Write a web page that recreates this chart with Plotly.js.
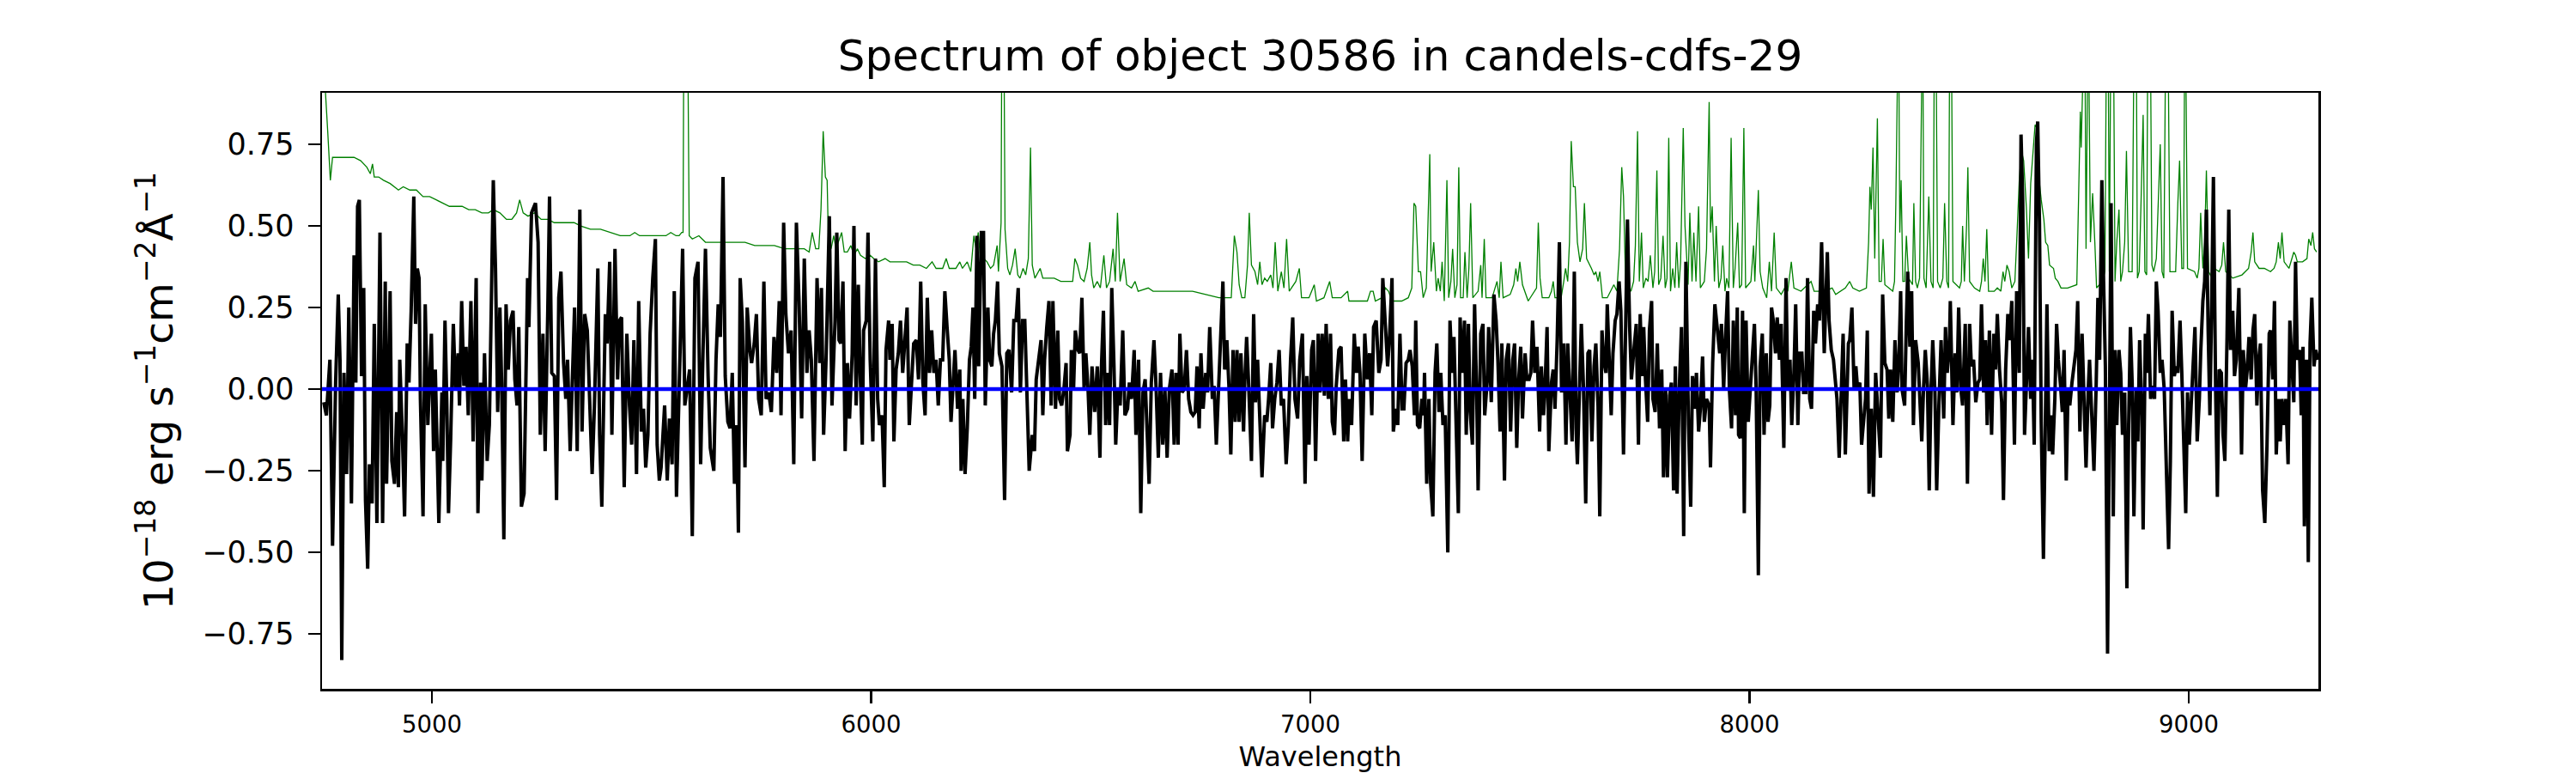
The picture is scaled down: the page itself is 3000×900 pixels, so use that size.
<!DOCTYPE html>
<html>
<head>
<meta charset="utf-8">
<script src="https://cdn.plot.ly/plotly-3.0.1.min.js"></script>
<style>html,body{margin:0;padding:0;background:#fff;}#chart{width:3000px;height:900px;}</style>
</head>
<body>
<div id="chart"></div>
<script>
const specWaveA = [4754,4760,4768,4774,4781,4787,4791,4795,4800,4806,4811,4817,4823,4827,4831,4835,4840,4845,4849,4854,4858,4864,4869,4875,4882,4888,4894,4897,4905,4909,4915,4920,4924,4927,4933,4938,4944,4948,4953,4959,4963,4967,4971,4974,4980,4985,4991,4999,5004,5008,5016,5023,5025,5030,5034,5038,5043,5049,5054,5060,5063,5068,5073,5078,5083,5089,5094,5101,5105,5111,5114,5120,5126,5131,5140,5145,5150,5155,5159,5164,5169,5174,5179,5185,5189,5194,5198,5204,5210,5213,5218,5221,5227,5230,5236,5242,5247,5253,5258,5264,5268,5273,5279,5284,5289,5294,5300,5305,5309,5315,5320,5325,5331,5337,5342,5348,5354,5360,5365,5370,5378,5382,5387,5395,5399,5405,5410,5417,5423,5427,5432,5438,5444,5450,5455,5460,5466,5471,5477,5482,5487,5492,5497,5503,5509,5513,5518,5522,5530,5536,5541,5547,5552,5557,5563,5571,5576,5582,5587,5593,5599,5606,5612,5617,5623,5629,5634,5642,5647,5652,5657,5663,5668,5674,5679,5684,5689,5694,5698,5702,5707,5713,5718,5724,5728,5734,5739,5744,5750,5756,5761,5767,5773,5779,5785,5791,5795,5801,5806,5812,5818,5824,5830,5836,5842,5848,5854,5859,5864,5870,5877,5883,5887,5892,5898,5905,5911];
const specFluxA = [-0.04,-0.08,0.09,-0.48,0.02,0.29,0.09,-0.83,0.05,-0.26,0.25,-0.35,0.41,0.02,0.56,0.58,0.04,0.31,-0.34,-0.55,-0.23,-0.35,0.20,-0.41,0.48,-0.41,0.33,-0.29,0.30,-0.22,-0.29,-0.07,-0.30,0.09,-0.14,-0.39,0.14,0.02,0.24,0.59,0.20,0.37,0.34,-0.03,-0.39,0.26,-0.11,0.17,-0.19,0.06,-0.41,-0.01,-0.22,0.21,-0.03,-0.38,-0.15,0.20,0.00,0.11,-0.05,0.27,0.01,0.13,-0.08,0.27,-0.16,0.34,-0.38,0.02,-0.28,0.11,-0.22,-0.11,0.64,0.37,-0.07,0.25,0.02,-0.46,0.26,0.06,0.21,0.24,0.03,-0.05,0.19,-0.36,-0.32,-0.10,0.34,0.19,0.54,0.55,0.57,0.45,-0.14,0.17,-0.19,0.24,0.59,0.05,0.04,-0.34,0.28,0.36,0.08,-0.03,0.09,-0.19,0.01,0.25,-0.19,0.55,-0.13,0.23,0.18,-0.08,-0.26,-0.06,0.37,-0.14,-0.36,0.23,0.14,0.39,-0.14,0.43,0.03,0.21,0.22,-0.30,0.17,-0.05,-0.17,0.15,-0.26,0.27,-0.13,-0.06,-0.24,-0.14,0.17,0.34,0.46,-0.17,-0.28,-0.24,-0.05,-0.28,-0.09,-0.23,0.30,-0.33,0.00,0.43,-0.05,0.01,0.06,-0.45,0.34,0.39,-0.23,0.09,0.43,0.04,-0.18,-0.25,0.09,0.26,0.16,0.65,0.04,-0.10,-0.12,0.05,-0.29,-0.11,-0.44,0.34,0.21,-0.24,0.25,0.12,0.08,0.14,0.23,-0.03,-0.08,0.33,-0.03,-0.01,-0.07,0.16,0.05,0.27,-0.08,0.51,0.23,0.11,0.18,-0.23,0.51,0.27,-0.09,0.40,0.05,0.18,0.09,-0.22,0.34,0.08,0.31,-0.14,0.11,0.53,-0.05];

const specWaveB = [5918,5922,5927,5931,5936,5941,5946,5951,5957,5961,5966,5971,5975,5980,5983,5989,5993,5998,6004,6010,6015,6019,6025,6030,6034,6040,6043,6048,6052,6057,6062,6067,6072,6077,6082,6087,6092,6097,6103,6108,6113,6118,6123,6128,6133,6138,6143,6148,6153,6158,6163,6168,6173,6178,6182,6187,6191,6197,6202,6205,6209,6214,6219,6224,6228,6232,6236,6241,6245,6251,6256,6260,6266,6270,6275,6279,6283,6288,6292,6298,6304,6309,6314,6320,6325,6330,6335,6340,6345,6350,6355,6360,6367,6372,6376,6382,6387,6391,6395,6400,6405,6410,6414,6420,6425,6429,6434,6439,6444,6447,6453,6456,6461,6465,6471,6475,6480,6485,6489,6494,6498,6503,6509,6515,6521,6524,6529,6534,6539,6543,6548,6553,6557,6562,6567,6573,6578,6584,6588,6593,6599,6603,6609,6614,6619,6624,6629,6633,6638,6644,6649,6654,6659,6664,6669,6674,6679,6685,6690,6694,6699,6703,6708,6713,6718,6723,6728,6733,6738,6742,6747,6751,6756,6762,6766,6771,6777,6781,6786,6792,6796,6801,6805,6810,6815,6819,6824,6829,6833,6838,6842,6848,6851,6855,6860,6866,6871,6875,6880,6885,6890,6896,6901,6905,6910,6914,6919,6924,6929,6934,6939,6945,6950,6955,6960,6965,6971,6976,6982,6988,6992,6997,7003,7007,7012,7018,7022,7027,7032,7036,7041,7046,7050,7055,7059,7065];
const specFluxB = [0.21,0.48,0.15,0.14,0.33,-0.19,0.08,-0.09,0.11,0.50,-0.05,0.32,0.06,-0.17,0.18,0.21,0.48,0.09,-0.16,0.40,-0.03,-0.11,-0.08,-0.30,0.12,0.21,0.09,0.20,-0.16,0.06,0.11,0.21,0.05,0.17,0.25,-0.11,0.01,0.14,0.15,0.03,0.33,0.02,-0.08,0.28,0.05,0.18,0.05,0.09,-0.05,0.09,0.09,0.30,0.19,0.09,-0.10,0.05,0.12,-0.06,0.06,-0.25,-0.03,-0.26,-0.12,0.09,0.13,0.25,-0.03,0.47,0.07,0.48,0.48,-0.05,0.25,0.09,0.07,0.17,0.21,0.33,0.11,0.07,-0.34,0.11,0.12,-0.01,0.21,0.21,0.31,-0.01,0.21,0.21,-0.01,-0.25,-0.14,-0.19,0.03,0.09,0.15,-0.08,0.09,0.19,0.27,-0.05,0.27,-0.06,0.18,-0.03,-0.05,0.00,0.08,-0.19,-0.14,0.12,0.00,0.18,0.12,0.11,0.28,0.00,0.11,0.00,-0.14,0.07,-0.07,0.07,-0.21,0.05,0.24,-0.11,0.05,-0.11,0.31,0.07,-0.17,0.00,-0.05,0.18,-0.08,-0.06,0.02,-0.03,0.12,-0.14,0.09,-0.38,-0.01,0.03,-0.12,-0.29,0.02,0.15,0.00,-0.21,0.05,-0.17,0.00,-0.21,0.00,0.06,-0.17,0.05,-0.17,0.17,-0.01,0.00,0.12,-0.03,-0.07,-0.08,-0.07,0.07,-0.12,0.11,-0.06,0.05,-0.01,0.19,-0.03,0.01,-0.17,0.06,0.19,0.33,0.06,0.15,0.00,-0.20,0.12,-0.10,0.12,-0.10,0.11,-0.13,0.03,0.16,0.00,-0.22,0.23,-0.04,0.09,-0.12,-0.27,-0.08,-0.10,-0.03,0.08,-0.12,-0.03,0.02,0.12,-0.05,-0.03,-0.23,-0.11,0.09,0.22,-0.03,-0.09,0.09,0.17,-0.29,0.04,-0.17,0.12,0.15,-0.22,0.17,-0.01,0.17,-0.02,0.20,-0.03,0.17,-0.10,-0.14,0.01,0.12];

const specWaveC = [7070,7076,7080,7085,7089,7094,7100,7105,7109,7113,7118,7124,7130,7135,7140,7144,7150,7156,7161,7165,7171,7176,7180,7186,7189,7195,7199,7204,7209,7213,7218,7223,7227,7232,7237,7240,7244,7249,7254,7258,7260,7265,7270,7274,7279,7284,7288,7293,7297,7302,7307,7313,7318,7323,7327,7332,7337,7341,7346,7351,7355,7360,7364,7369,7374,7379,7382,7388,7393,7397,7403,7406,7412,7418,7423,7427,7432,7436,7442,7446,7451,7456,7461,7465,7470,7474,7479,7483,7489,7493,7498,7502,7506,7511,7516,7522,7526,7531,7534,7539,7543,7549,7553,7557,7562,7567,7572,7577,7582,7586,7591,7596,7601,7605,7608,7614,7617,7622,7627,7632,7636,7641,7646,7650,7655,7659,7664,7668,7673,7676,7680,7685,7689,7694,7698,7703,7707,7713,7718,7722,7727,7731,7736,7742,7747,7751,7755,7759,7763,7768,7772,7777,7780,7785,7790,7795,7800,7804,7809,7813,7818,7822,7827,7831,7835,7840,7845,7850,7855,7861,7866,7870,7875,7879,7884,7888,7893,7897,7902,7908,7911,7916,7921,7926,7932,7936,7941,7945,7950,7954,7959,7963,7968,7972,7975,7979,7984,7988,7992,7997,8002,8006,8011,8015,8020,8024,8029,8033,8038,8042,8046,8050,8054,8059,8063,8068,8072,8078,8083,8087,8092,8096,8101,8105,8110,8114,8119,8123,8128,8132,8137,8141,8146,8150,8155,8159,8164,8170,8174,8177,8181,8186,8191,8195,8199,8204,8208,8213,8218];
const specFluxC = [0.13,-0.16,0.03,-0.16,-0.03,-0.11,0.17,0.05,0.13,0.05,-0.22,0.17,0.03,0.11,-0.08,0.19,0.21,0.05,0.09,0.34,0.21,0.07,0.15,0.34,-0.13,-0.06,-0.11,0.17,-0.06,-0.06,0.08,0.09,0.12,0.07,-0.08,0.21,-0.11,-0.12,-0.03,-0.08,0.05,-0.29,-0.03,-0.29,-0.39,0.05,0.14,-0.07,0.05,-0.11,-0.08,-0.50,0.21,0.05,0.16,-0.08,-0.38,0.22,0.05,0.21,-0.14,0.20,-0.07,-0.17,0.26,-0.03,-0.31,0.17,0.20,-0.08,0.03,0.19,-0.04,0.29,0.21,0.09,-0.13,0.14,-0.28,0.09,0.14,-0.13,0.09,0.14,-0.18,0.02,0.13,-0.09,0.11,0.03,0.03,0.05,0.21,0.05,0.13,-0.13,0.07,-0.08,-0.01,0.19,-0.19,0.02,0.06,-0.06,0.15,0.45,-0.01,0.14,-0.17,0.14,-0.01,-0.16,0.36,-0.12,-0.23,0.09,0.20,0.00,-0.35,0.11,0.12,-0.16,0.07,0.14,-0.05,-0.39,0.18,0.09,0.05,0.26,0.07,-0.08,0.11,0.21,0.23,0.33,0.24,-0.20,0.20,0.52,0.19,0.03,0.11,0.20,-0.17,0.23,0.04,0.19,0.03,-0.10,0.18,0.27,-0.03,-0.07,0.14,-0.12,0.06,-0.27,0.00,-0.27,-0.02,0.02,-0.31,0.07,-0.32,0.00,0.19,-0.45,0.39,-0.11,-0.36,0.04,-0.06,0.05,-0.13,-0.06,0.10,-0.10,-0.03,-0.05,-0.24,0.08,0.26,0.19,0.11,0.20,0.00,0.15,0.30,0.00,-0.12,0.21,-0.08,0.25,-0.14,-0.15,0.24,-0.38,0.21,-0.10,0.02,0.09,0.20,0.00,-0.57,0.07,0.17,-0.14,0.11,-0.10,-0.05,0.25,0.21,0.11,0.22,0.09,0.20,-0.18,0.34,0.00,0.09,-0.11,0.05,0.26,-0.11,0.11,0.11,-0.01,-0.01,0.34,-0.03,-0.06,0.24,0.14,0.26,0.21,0.45,0.11,0.28,0.42,0.21,0.12,0.09,0.02,-0.03,-0.21,-0.03,0.17,-0.20];

const specWaveD = [8225,8228,8233,8238,8242,8246,8251,8255,8259,8264,8268,8272,8277,8282,8287,8293,8298,8303,8308,8313,8317,8321,8326,8331,8336,8340,8344,8347,8353,8357,8360,8365,8369,8373,8378,8384,8388,8392,8396,8400,8405,8409,8413,8417,8422,8426,8431,8436,8442,8446,8450,8455,8457,8463,8468,8472,8476,8481,8485,8491,8496,8501,8505,8510,8515,8520,8524,8528,8533,8537,8541,8546,8551,8556,8560,8564,8569,8574,8578,8583,8588,8592,8597,8603,8608,8614,8618,8622,8626,8631,8635,8640,8644,8648,8653,8656,8660,8664,8669,8673,8677,8682,8686,8690,8695,8699,8703,8708,8712,8716,8721,8725,8729,8734,8739,8743,8747,8752,8757,8761,8766,8771,8774,8779,8784,8789,8793,8797,8802,8806,8810,8815,8819,8823,8828,8832,8836,8841,8845,8849,8854,8859,8863,8867,8871,8875,8880,8884,8888,8893,8896,8901,8904,8908,8913,8917,8922,8926,8930,8935,8939,8944,8949,8954,8958,8962,8967,8971,8975,8980,8984,8988,8993,8997,9001,9006,9010,9014,9019,9024,9027,9032,9036,9040,9044,9048,9052,9056,9061,9065,9069,9074,9078,9082,9087,9091,9095,9100,9104,9108,9114,9120,9124,9129,9133,9137,9142,9146,9150,9155,9159,9163,9168,9173,9178,9183,9186,9191,9195,9199,9204,9208,9212,9217,9221,9226,9230,9234,9239,9243,9247,9252,9256,9260,9263,9268,9272,9276,9280,9285,9289,9294];
const specFluxD = [0.14,0.15,0.25,0.00,0.07,0.00,0.02,-0.17,-0.11,-0.03,0.18,-0.32,-0.06,-0.33,0.05,-0.11,-0.21,0.29,0.08,0.06,-0.09,0.06,-0.10,0.15,-0.01,0.09,0.30,0.00,-0.05,0.21,0.36,0.13,0.30,-0.11,0.15,0.08,-0.06,-0.16,0.00,0.12,0.01,-0.31,-0.01,0.15,-0.01,-0.31,-0.05,0.15,-0.09,0.19,0.05,0.14,0.27,-0.11,0.11,-0.01,0.25,0.00,-0.05,0.20,-0.29,0.20,0.07,0.09,-0.04,0.02,0.03,0.26,-0.01,0.15,-0.11,0.18,-0.14,0.17,0.06,0.23,0.06,-0.04,-0.34,0.06,0.23,0.15,0.27,-0.17,0.30,0.05,0.78,0.57,-0.14,0.06,0.19,-0.03,0.09,-0.17,0.75,0.82,0.51,-0.10,-0.52,-0.14,0.26,-0.19,-0.08,-0.20,-0.03,0.20,0.09,0.01,-0.07,0.12,-0.28,0.00,-0.05,0.02,0.09,0.12,0.27,-0.13,0.17,0.02,-0.24,0.00,0.09,-0.08,-0.25,0.01,0.28,0.09,0.64,0.33,0.07,-0.81,-0.11,0.57,-0.39,0.12,-0.11,0.12,0.05,-0.14,-0.01,-0.61,-0.11,0.19,0.02,-0.39,0.00,-0.16,0.15,-0.08,-0.43,0.17,0.05,0.23,-0.03,0.01,-0.03,0.33,0.24,0.05,0.09,0.00,-0.25,-0.49,-0.22,0.24,0.04,0.07,0.05,0.21,0.05,-0.11,-0.38,-0.01,-0.17,-0.03,0.11,0.19,-0.16,-0.03,0.11,0.27,0.33,0.55,0.18,-0.08,0.26,0.65,0.00,-0.33,0.06,0.05,-0.14,-0.22,0.16,0.55,0.12,0.24,0.04,0.09,0.31,-0.20,0.12,0.00,0.06,0.16,0.03,0.18,0.23,-0.05,0.09,0.14,-0.31,-0.41,-0.17,0.17,0.18,0.03,0.27,-0.20,-0.03,-0.16,-0.03,-0.11,-0.03,-0.23,0.21,0.09,-0.04,0.39,0.09,0.12,-0.08,0.13,-0.42,0.09,-0.53,0.14,0.28,0.07,0.12,0.09];

// ---- Noise / contamination spectrum (green); values above the frame are clipped ----
const noiseWaveA = [4750,4757,4763,4769,4774,4785,4800,4823,4838,4852,4860,4865,4869,4879,4890,4905,4924,4935,4950,4965,4980,4995,5010,5025,5040,5054,5069,5084,5099,5114,5129,5140,5155,5170,5182,5193,5200,5208,5219,5234,5249,5264,5279,5294,5309,5324,5339,5361,5384,5406,5429,5451,5462,5473,5496,5518,5533,5544,5556,5563,5569,5572,5574,5582,5586,5593,5608,5623,5638,5649,5668,5690,5713,5735,5758,5780,5803,5825,5848,5859,5866,5874,5881,5886,5891,5896,5900,5903,5909,5915,5920,5933,5939,5946,5954,5961,5969,5976,5987,5998,6006,6017,6032,6043,6066,6081,6096,6111,6126,6139,6148,6163,6171,6178,6193,6202,6208,6219,6227,6234,6239,6244,6249,6257,6264,6272,6279,6287,6290,6296,6298,6302,6305,6311,6316,6322,6328,6334,6339,6346,6352,6358,6363,6367,6373,6385,6391,6402,6417,6432,6447,6459,6464,6470,6477,6485,6492,6498,6502,6507,6515,6522,6530,6536,6543,6551,6556,6561,6567,6576,6582,6593,6601,6608,6631,6642,6672,6702,6732,6762,6792,6820,6827,6833,6838,6844,6851,6857,6861,6866,6874,6880,6885,6890,6896,6902,6910,6915,6920,6926,6934,6940,6946,6952,6967,6975,6980,6997,7009,7014,7031,7044,7050,7065];
const noiseFluxA = [1.2,0.93,0.79,0.64,0.71,0.71,0.71,0.71,0.70,0.68,0.66,0.69,0.65,0.65,0.64,0.63,0.61,0.62,0.61,0.61,0.59,0.59,0.58,0.57,0.56,0.56,0.56,0.55,0.55,0.54,0.54,0.55,0.54,0.52,0.52,0.54,0.58,0.54,0.53,0.54,0.52,0.52,0.51,0.51,0.51,0.51,0.50,0.49,0.49,0.48,0.47,0.47,0.48,0.47,0.47,0.47,0.47,0.48,0.47,0.47,0.48,0.48,1.2,1.2,0.47,0.46,0.47,0.45,0.45,0.45,0.45,0.45,0.45,0.44,0.44,0.44,0.43,0.43,0.43,0.42,0.48,0.43,0.43,0.55,0.79,0.65,0.64,0.45,0.43,0.47,0.43,0.48,0.42,0.42,0.44,0.41,0.43,0.41,0.40,0.41,0.40,0.39,0.40,0.39,0.39,0.39,0.38,0.38,0.37,0.39,0.37,0.37,0.40,0.37,0.37,0.39,0.37,0.39,0.36,0.47,0.43,0.48,0.40,0.40,0.39,0.37,0.38,0.44,0.36,0.51,1.2,1.2,0.49,0.37,0.35,0.38,0.43,0.35,0.34,0.37,0.35,0.40,0.74,0.38,0.34,0.37,0.34,0.34,0.34,0.33,0.33,0.33,0.40,0.38,0.34,0.33,0.37,0.45,0.35,0.31,0.33,0.31,0.41,0.31,0.33,0.43,0.33,0.54,0.33,0.40,0.32,0.31,0.33,0.30,0.31,0.30,0.30,0.30,0.30,0.29,0.28,0.28,0.47,0.42,0.32,0.28,0.28,0.38,0.54,0.38,0.36,0.32,0.39,0.32,0.34,0.33,0.35,0.31,0.45,0.30,0.36,0.31,0.46,0.30,0.33,0.37,0.28,0.28,0.32,0.27,0.28,0.33,0.28,0.28];

const noiseWaveC = [7070,7085,7088,7115,7130,7137,7143,7148,7163,7171,7178,7186,7208,7223,7231,7236,7240,7246,7251,7257,7264,7272,7275,7281,7287,7291,7296,7300,7305,7311,7315,7320,7324,7329,7334,7338,7342,7348,7352,7357,7361,7365,7370,7382,7388,7391,7396,7400,7414,7425,7430,7434,7439,7455,7463,7468,7472,7477,7483,7496,7515,7519,7523,7528,7543,7549,7553,7557,7571,7577,7581,7586,7590,7594,7599,7603,7608,7614,7620,7624,7629,7640,7646,7650,7655,7659,7665,7676,7691,7698,7704,7709,7713,7718,7730,7736,7740,7745,7749,7754,7758,7764,7769,7774,7780,7784,7789,7793,7798,7803,7808,7812,7816,7820,7825,7830,7834,7839,7843,7849,7853,7857,7860,7864,7869,7873,7878,7884,7888,7897,7902,7908,7911,7915,7920,7924,7930,7935,7939,7944,7948,7953,7958,7963,7967,7973,7977,7982,7987,7991,8003,8009,8012,8020,8024,8030,8039,8045,8050,8056,8061,8072,8080,8087,8095,8101,8117,8140,8147,8170,8188,8196,8218];
const noiseFluxC = [0.28,0.30,0.27,0.27,0.27,0.30,0.30,0.27,0.28,0.31,0.30,0.27,0.27,0.28,0.31,0.57,0.56,0.36,0.36,0.28,0.31,0.72,0.36,0.45,0.30,0.34,0.30,0.39,0.27,0.64,0.28,0.33,0.43,0.28,0.32,0.68,0.28,0.28,0.42,0.28,0.37,0.57,0.28,0.30,0.38,0.28,0.46,0.28,0.28,0.33,0.28,0.39,0.28,0.29,0.32,0.37,0.33,0.39,0.32,0.27,0.31,0.51,0.34,0.28,0.28,0.30,0.33,0.28,0.28,0.33,0.37,0.33,0.45,0.76,0.62,0.62,0.45,0.39,0.43,0.57,0.40,0.37,0.35,0.36,0.33,0.36,0.28,0.28,0.32,0.30,0.43,0.68,0.59,0.32,0.30,0.33,0.44,0.79,0.33,0.48,0.31,0.34,0.33,0.41,0.31,0.36,0.67,0.32,0.34,0.47,0.31,0.34,0.77,0.30,0.37,0.31,0.45,0.31,0.39,0.80,0.50,0.40,0.32,0.54,0.33,0.48,0.33,0.56,0.31,0.33,0.43,0.88,0.48,0.56,0.33,0.50,0.31,0.34,0.44,0.30,0.34,0.31,0.77,0.31,0.37,0.51,0.31,0.32,0.80,0.31,0.33,0.44,0.33,0.61,0.36,0.31,0.28,0.39,0.30,0.48,0.31,0.29,0.31,0.30,0.39,0.31,0.30,0.33,0.30,0.30,0.31,0.29,0.31];

const noiseWaveD = [8228,8235,8250,8266,8271,8274,8277,8281,8285,8288,8291,8295,8300,8304,8308,8326,8330,8333,8336,8339,8342,8345,8349,8353,8357,8362,8371,8374,8378,8382,8387,8391,8394,8397,8402,8405,8408,8413,8418,8421,8424,8428,8434,8440,8444,8449,8453,8456,8459,8463,8478,8482,8485,8489,8494,8497,8501,8512,8524,8528,8532,8536,8540,8544,8557,8564,8572,8577,8581,8586,8591,8597,8604,8609,8614,8619,8624,8630,8635,8640,8645,8650,8655,8660,8664,8670,8674,8679,8683,8692,8696,8702,8709,8724,8745,8749,8753,8755,8758,8760,8763,8766,8768,8771,8776,8781,8786,8790,8803,8809,8813,8816,8819,8823,8828,8832,8836,8841,8845,8849,8854,8858,8863,8871,8876,8880,8883,8887,8891,8896,8900,8904,8907,8912,8916,8920,8926,8930,8935,8939,8943,8948,8952,8957,8970,8975,8979,8984,8988,8991,8994,8997,9013,9019,9023,9027,9032,9036,9040,9045,9053,9058,9069,9075,9079,9084,9100,9121,9136,9142,9146,9150,9160,9172,9186,9194,9199,9204,9208,9212,9217,9228,9234,9239,9243,9247,9259,9269,9273,9278,9282,9286,9291];
const noiseFluxD = [0.33,0.31,0.30,0.31,0.45,0.62,0.55,0.74,0.40,0.63,0.83,0.33,0.33,0.46,0.32,0.30,0.33,0.57,1.2,1.2,0.48,0.64,0.33,0.33,0.47,0.34,0.32,0.57,0.33,0.31,0.34,1.2,1.2,0.34,0.31,0.45,0.59,0.33,0.31,1.2,1.2,0.33,0.31,0.34,0.57,0.33,0.31,1.2,1.2,0.33,0.31,0.33,0.50,0.33,0.50,0.68,0.33,0.31,0.30,0.33,0.40,0.33,0.49,0.30,0.30,0.31,0.30,0.36,0.33,0.38,0.36,0.31,0.33,0.48,0.64,0.73,0.70,0.56,0.40,0.63,0.71,0.81,0.80,0.63,0.58,0.52,0.45,0.44,0.38,0.37,0.34,0.33,0.31,0.31,0.32,0.57,0.85,0.74,0.90,1.2,1.2,0.43,1.2,1.2,0.45,0.60,0.45,0.31,0.33,0.36,1.2,1.2,0.36,1.2,1.2,0.33,0.45,0.55,0.33,0.36,0.45,0.73,0.36,0.36,1.2,1.2,0.34,0.36,0.56,0.84,0.36,0.35,1.2,1.2,0.38,0.36,0.40,0.54,0.75,0.36,0.34,1.2,1.2,0.36,0.36,0.57,0.70,0.37,0.37,1.2,0.88,0.37,0.36,0.34,0.37,0.54,0.37,0.45,0.67,0.36,0.34,0.37,0.36,0.38,0.45,0.36,0.34,0.35,0.37,0.42,0.48,0.39,0.37,0.37,0.36,0.37,0.39,0.45,0.40,0.48,0.39,0.37,0.40,0.42,0.41,0.39,0.39,0.40,0.46,0.44,0.48,0.43,0.42];

// ---- Axis settings ----
const xTicks = [5000, 6000, 7000, 8000, 9000];
const yTicks = [-0.75, -0.5, -0.25, 0, 0.25, 0.5, 0.75];
const xRange = [4750, 9295];
const yRange = [-0.918, 0.908];
const titleText = 'Spectrum of object 30586 in candels-cdfs-29';
const xTitle = 'Wavelength';
const yTitle = '10<sup>−18</sup> erg s<sup>−1</sup>cm<sup>−2</sup>Å<sup>−1</sup>';

const specWave = specWaveA.concat(specWaveB, specWaveC, specWaveD);
const specFlux = specFluxA.concat(specFluxB, specFluxC, specFluxD);
const noiseWave = noiseWaveA.concat(noiseWaveC, noiseWaveD);
const noiseFlux = noiseFluxA.concat(noiseFluxC, noiseFluxD);

const FONT = 'DejaVu Sans, Liberation Sans, sans-serif';

const traces = [
  { x: noiseWave, y: noiseFlux, type: 'scatter', mode: 'lines',
    line: { color: '#008000', width: 1.3 }, hoverinfo: 'skip', showlegend: false },
  { x: specWave, y: specFlux, type: 'scatter', mode: 'lines',
    line: { color: '#000000', width: 4 }, showlegend: false }
];

const layout = {
  width: 3000, height: 900,
  margin: { l: 375, r: 300, t: 108, b: 98, pad: 0 },
  paper_bgcolor: '#ffffff', plot_bgcolor: '#ffffff',
  showlegend: false,
  font: { family: FONT, color: '#000000' },
  title: { text: titleText, font: { family: FONT, size: 50, color: '#000000' },
           x: 0.5, xref: 'paper', xanchor: 'center', y: 1 - 64.5 / 900, yref: 'container', yanchor: 'middle' },
  xaxis: {
    range: xRange, tickvals: xTicks, ticktext: xTicks.map(String),
    ticks: 'outside', ticklen: 14, tickwidth: 2.5, tickcolor: '#000',
    showline: true, mirror: true, linecolor: '#000', linewidth: 2.5,
    showgrid: false, zeroline: false, ticklabelstandoff: 1,
    tickfont: { family: FONT, size: 27.5, color: '#000' },
    title: { text: xTitle, font: { family: FONT, size: 32, color: '#000' }, standoff: 12 }
  },
  yaxis: {
    range: yRange, tickvals: yTicks, tickformat: '.2f',
    ticks: 'outside', ticklen: 14, tickwidth: 2.5, tickcolor: '#000',
    showline: true, mirror: true, linecolor: '#000', linewidth: 2.5,
    showgrid: false, zeroline: false, ticklabelstandoff: 9,
    tickfont: { family: FONT, size: 35, color: '#000' },
    title: { text: yTitle, font: { family: FONT, size: 47, color: '#000' }, standoff: 19 }
  },
  shapes: [
    { type: 'line', xref: 'paper', x0: 0, x1: 1, yref: 'y', y0: 0, y1: 0,
      line: { color: '#0000ff', width: 4.5 }, layer: 'above' }
  ]
};

Plotly.newPlot('chart', traces, layout, { staticPlot: true, displayModeBar: false });
</script>
</body>
</html>
